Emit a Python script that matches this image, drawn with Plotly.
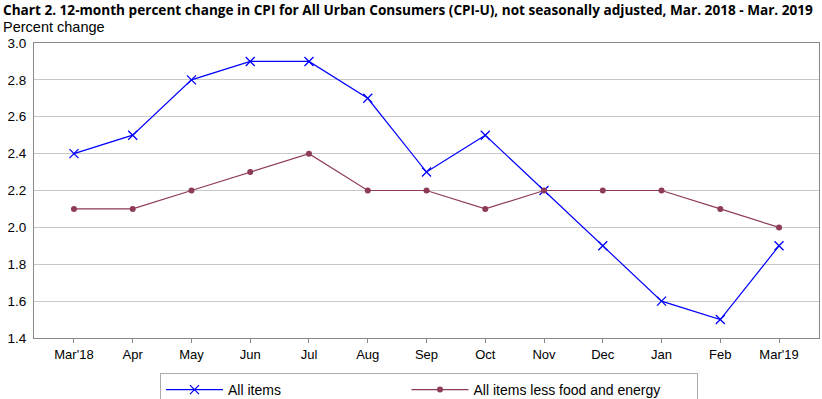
import plotly.graph_objects as go

months = ["Mar'18", "Apr", "May", "Jun", "Jul", "Aug", "Sep", "Oct", "Nov", "Dec", "Jan", "Feb", "Mar'19"]
all_items = [2.4, 2.5, 2.8, 2.9, 2.9, 2.7, 2.3, 2.5, 2.2, 1.9, 1.6, 1.5, 1.9]
core = [2.1, 2.1, 2.2, 2.3, 2.4, 2.2, 2.2, 2.1, 2.2, 2.2, 2.2, 2.1, 2.0]
y_ticks = [1.4, 1.6, 1.8, 2.0, 2.2, 2.4, 2.6, 2.8, 3.0]
series_names = ["All items", "All items less food and energy"]

xi = list(range(len(months)))
fig = go.Figure()
fig.add_trace(go.Scatter(x=xi, y=all_items, name=series_names[0] + "\u00a0" * 31, mode="lines+markers",
                         line=dict(color="#0000FF", width=1.2),
                         marker=dict(symbol="x-thin", size=9, line=dict(color="#0000FF", width=1.3))))
fig.add_trace(go.Scatter(x=xi, y=core, name=series_names[1] + "\u00a0" * 8, mode="lines+markers",
                         line=dict(color="#8E3A59", width=1.2),
                         marker=dict(symbol="circle", size=6, color="#8E3A59")))

font = "Liberation Sans, Arial, sans-serif"
fig.update_layout(
    width=822, height=399,
    margin=dict(l=34, r=3, t=43, b=61, autoexpand=False),
    plot_bgcolor="white", paper_bgcolor="white",
    font=dict(family=font, size=13, color="black"),
    showlegend=True,
    legend=dict(orientation="h", xref="container", yref="container",
                x=160 / 822, y=1 - 373 / 399, xanchor="left", yanchor="top",
                bordercolor="#AAAAAA", borderwidth=1, font=dict(size=14, family=font),
                itemwidth=57),
    xaxis=dict(range=[-0.68, 12.68], tickmode="array", tickvals=xi, ticktext=months,
               showgrid=False, showline=True, linecolor="#888888", mirror=True, automargin=False,
               ticks="outside", ticklen=4, tickcolor="#888888", tickfont=dict(size=13), zeroline=False),
    yaxis=dict(range=[1.4, 3.0], tickmode="array", tickvals=y_ticks,
               ticktext=[f"{v:.1f}" for v in y_ticks], automargin=False,
               showgrid=True, gridcolor="#C8C8C8", gridwidth=1, ticklabelstandoff=4,
               showline=True, linecolor="#888888", mirror=True, ticks="", tickfont=dict(size=13.5),
               zeroline=False),
    annotations=[
        dict(text="<b>Chart 2. 12-month percent change in CPI for All Urban Consumers (CPI-U), not seasonally adjusted, Mar. 2018 - Mar. 2019</b>",
             x=0, y=1, xref="paper", yref="paper", xanchor="left", yanchor="top",
             xshift=-33, yshift=45, showarrow=False, font=dict(size=13.6, family="Open Sans, sans-serif")),
        dict(text="Percent change", x=0, y=1, xref="paper", yref="paper", xanchor="left", yanchor="top",
             xshift=-33, yshift=26, showarrow=False, font=dict(size=14.5, family=font)),
    ],
)
fig.write_html("out.html", config={"displayModeBar": False},
               post_script="document.body.style.margin='0';document.body.style.overflow='hidden';")
